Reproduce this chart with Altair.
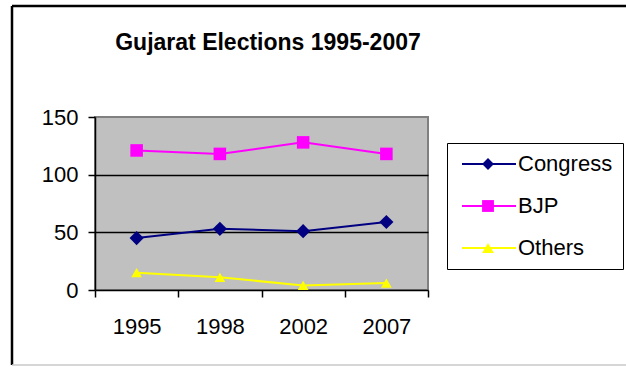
import altair as alt
import pandas as pd

years = ["1995", "1998", "2002", "2007"]
parties = ["Congress", "BJP", "Others"]
congress = [45, 53, 51, 59]
bjp = [121, 118, 128, 118]
others = [15, 11, 4, 6]
colors = ["#000080", "#FF00FF", "#FFFF00"]
shapes = ["diamond", "square", "triangle-up"]
marker_sizes = [200, 115, 240]
y_ticks = [0, 50, 100, 150]
title_text = "Gujarat Elections 1995-2007"

rows = []
for party, vals in zip(parties, [congress, bjp, others]):
    for yr, v in zip(years, vals):
        rows.append({"year": yr, "seats": v, "party": party, "party_m": party})
df = pd.DataFrame(rows)

FONT = "Liberation Sans"
FS = 22
W, H = 333, 173
PL, PT = 95, 117
CW, CH = 626, 367

x_enc = alt.X(
    "year:O", sort=years,
    scale=alt.Scale(type="band", paddingInner=0, paddingOuter=0),
    axis=alt.Axis(title=None, labelAngle=0, tickBand="extent", tickSize=7,
                  labelPadding=19, labelFontSize=FS, labelFont=FONT,
                  labelColor="black", domainColor="black", domainWidth=1.5,
                  tickColor="black", tickWidth=1.5, grid=False),
)
y_enc = alt.Y(
    "seats:Q",
    scale=alt.Scale(domain=[0, 150], nice=False),
    axis=alt.Axis(title=None, values=y_ticks, tickSize=7, labelPadding=10,
                  labelFontSize=FS, labelFont=FONT, labelColor="black",
                  domainColor="black", domainWidth=1.5, tickColor="black",
                  tickWidth=1.5, grid=True, gridWidth=1.5,
                  gridColor={"condition": {"test": "datum.value == 150 || datum.value == 0",
                                           "value": "transparent"},
                             "value": "black"}),
)

legend_common = dict(title=None, orient="none", legendX=352, legendY=26,
                     labelFontSize=FS, labelFont=FONT, labelColor="black",
                     padding=10, rowPadding=20, labelLimit=0)

lines = alt.Chart(df).mark_line(strokeWidth=2).encode(
    x=x_enc, y=y_enc,
    stroke=alt.Stroke("party:N", sort=parties,
                      scale=alt.Scale(range=colors),
                      legend=alt.Legend(symbolType="M-5.4,0H5.4", symbolSize=100,
                                        symbolStrokeWidth=2, symbolOffset=21,
                                        labelOffset=18, strokeColor="black",
                                        **legend_common)),
)

shape_legend = alt.Legend(symbolSize=140, symbolOffset=20, labelOffset=18,
                          labelOpacity=0, **legend_common)
points = alt.Chart(df).mark_point(filled=True, opacity=1).encode(
    x=x_enc, y=y_enc,
    fill=alt.Fill("party_m:N",
                  scale=alt.Scale(domain=parties, range=colors),
                  legend=shape_legend),
    shape=alt.Shape("party_m:N",
                    scale=alt.Scale(domain=parties, range=shapes),
                    legend=shape_legend),
    size=alt.Size("party_m:N", sort=parties, scale=alt.Scale(range=marker_sizes),
                  legend=None),
)

one = pd.DataFrame({"k": [0]})
frame_left = alt.Chart(one).mark_rule(color="black", strokeWidth=2.5).encode(
    x=alt.value(12 - PL), y=alt.value(6 - PT), y2=alt.value(CH - 2 - PT))
frame_top = alt.Chart(one).mark_rule(color="black", strokeWidth=2.5).encode(
    x=alt.value(12 - PL), x2=alt.value(CW - PL), y=alt.value(6 - PT))
frame_bottom = alt.Chart(one).mark_rule(color="#c8c8c8", strokeWidth=1.5).encode(
    x=alt.value(12 - PL), x2=alt.value(CW - PL), y=alt.value(CH - 2 - PT))
title = alt.Chart(one).mark_text(
    font=FONT, fontSize=23, fontWeight="bold", color="black",
    align="center", baseline="alphabetic",
).encode(text=alt.value(title_text), x=alt.value(268 - PL), y=alt.value(50 - PT))

chart = alt.layer(frame_left, frame_top, frame_bottom, title, lines, points).properties(
    width=W, height=H,
    autosize=alt.AutoSizeParams(type="none"),
    padding={"left": PL, "top": PT, "right": CW - PL - W, "bottom": CH - PT - H},
    background="white",
).configure_view(fill="#C0C0C0", stroke="#808080", strokeWidth=2)

chart.save("out.html", embed_options={"renderer": "svg", "actions": False})
